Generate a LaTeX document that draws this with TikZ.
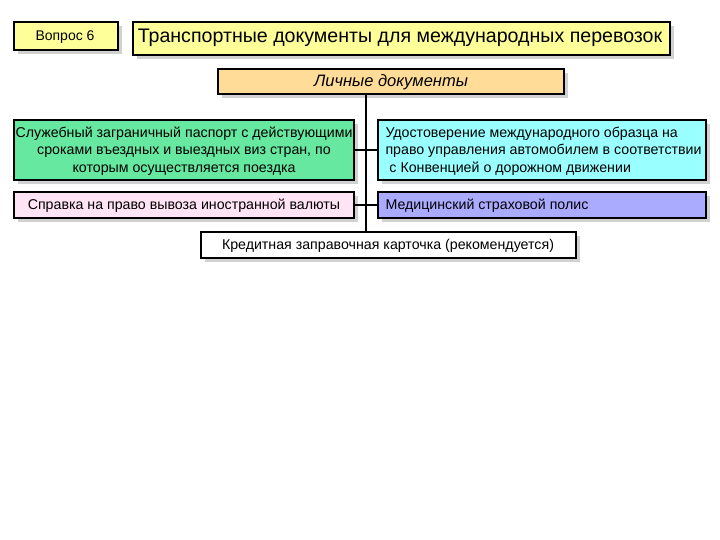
\documentclass[tikz,border=0pt]{standalone}
\usepackage{fontspec}
\setmainfont{Liberation Sans}
\begin{document}
\begin{tikzpicture}[x=1pt,y=-1pt,
  bx/.style={draw=black,line width=1.6pt,inner sep=0pt},
  sh/.style={fill=black!18,draw=none},
  conn/.style={line width=2.4pt},
  t/.style={font=\fontsize{14.2}{17.5}\selectfont,align=center}]
\useasboundingbox[fill=white] (0,0) rectangle (720,540);
% shadows
\foreach \a/\b/\c/\d in {14/22/118/50,133/22/670/55,218/69/564/94,14/120/354/180,378/120/706/180,14/192/354/218,378/192/706/218,201/232/576/258}
  \fill[sh] (\a+4,\b+4) rectangle (\c+4,\d+4);
\draw[conn] (366,94) -- (366,232);
\draw[conn] (354,150) -- (378,150);
\draw[conn] (354,205) -- (378,205);
\draw[bx,fill={rgb,255:red,255;green,255;blue,153}] (14,22) rectangle (118,50);
\node (q) at (65,37) [font=\fontsize{14}{16}\selectfont] {Вопрос 6};
\draw[bx,fill={rgb,255:red,255;green,255;blue,153}] (133,22) rectangle (670,55);
\node (title) at (400,38) [font=\fontsize{19.6}{22}\selectfont] {Транспортные документы для международных перевозок};
\draw[bx,fill={rgb,255:red,255;green,221;blue,153}] (218,69) rectangle (564,94);
\node (lic) at (391,82) [font=\fontsize{16.5}{18}\selectfont\itshape] {Личные документы};
\draw[bx,fill={rgb,255:red,102;green,232;blue,160}] (14,120) rectangle (354,180);
\node (a) at (184,151) [t] {Служебный заграничный паспорт с действующими\\сроками въездных и выездных виз стран, по\\которым осуществляется поездка};
\draw[bx,fill={rgb,255:red,153;green,255;blue,255}] (378,120) rectangle (706,180);
\node (b) at (382,151) [t,anchor=west,align=left] {Удостоверение международного образца на\\право управления автомобилем в соответствии\\\ с Конвенцией о дорожном движении};
\draw[bx,fill={rgb,255:red,255;green,228;blue,245}] (14,192) rectangle (354,218);
\node (c) at (184,206) [t] {Справка на право вывоза иностранной валюты};
\draw[bx,fill={rgb,255:red,170;green,170;blue,255}] (378,192) rectangle (706,218);
\node (d) at (382,206) [t,anchor=west] {Медицинский страховой полис};
\draw[bx,fill=white] (201,232) rectangle (576,258);
\node (e) at (388,246) [t] {Кредитная заправочная карточка (рекомендуется)};
\end{tikzpicture}
\end{document}
